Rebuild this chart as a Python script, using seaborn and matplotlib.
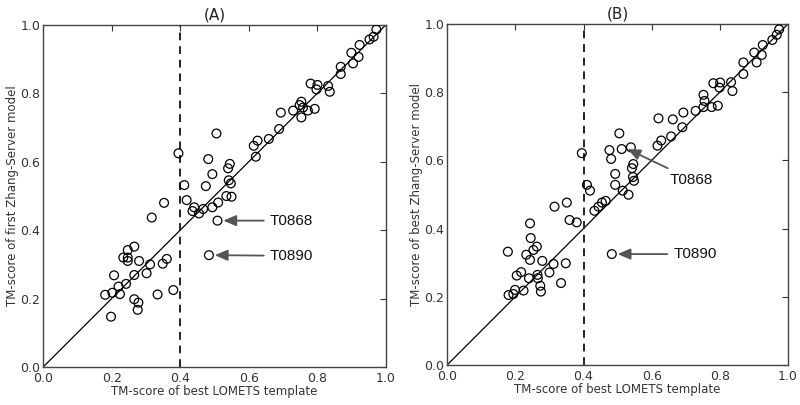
import numpy as np
import pandas as pd
import matplotlib
matplotlib.use("Agg")
import matplotlib.pyplot as plt
import seaborn as sns

# Panel A: best LOMETS template vs first Zhang-Server model
a_x = [0.395, 0.482, 0.494, 0.412, 0.475, 0.353, 0.419, 0.441, 0.467, 0.436,
       0.455, 0.494, 0.511, 0.509, 0.317, 0.266, 0.247, 0.234, 0.247, 0.247,
       0.280, 0.361, 0.349, 0.312, 0.302, 0.266, 0.207, 0.242, 0.220, 0.202,
       0.181, 0.224, 0.334, 0.380, 0.266, 0.278, 0.276, 0.198, 0.484,
       0.973, 0.965, 0.953, 0.924, 0.900, 0.921, 0.905, 0.869, 0.869, 0.781,
       0.801, 0.832, 0.798, 0.837, 0.754, 0.749, 0.759, 0.730, 0.773, 0.793,
       0.754, 0.694, 0.689, 0.659, 0.626, 0.615, 0.621, 0.506, 0.545, 0.540,
       0.542, 0.548, 0.535, 0.550]
a_y = [0.625, 0.608, 0.564, 0.532, 0.529, 0.480, 0.488, 0.467, 0.462, 0.456,
       0.449, 0.467, 0.481, 0.428, 0.437, 0.352, 0.342, 0.320, 0.320, 0.310,
       0.310, 0.316, 0.302, 0.300, 0.274, 0.269, 0.268, 0.243, 0.235, 0.217,
       0.211, 0.213, 0.212, 0.225, 0.198, 0.188, 0.167, 0.147, 0.327,
       0.987, 0.966, 0.958, 0.942, 0.919, 0.907, 0.888, 0.878, 0.857, 0.829,
       0.825, 0.822, 0.812, 0.805, 0.776, 0.766, 0.759, 0.750, 0.750, 0.755,
       0.730, 0.744, 0.696, 0.667, 0.662, 0.647, 0.615, 0.683, 0.594, 0.581,
       0.546, 0.537, 0.500, 0.498]

# Panel B: best LOMETS template vs best Zhang-Server model
b_x = [0.395, 0.476, 0.481, 0.505, 0.512, 0.539, 0.546, 0.542, 0.493, 0.548,
       0.545, 0.493, 0.410, 0.419, 0.532, 0.515, 0.465, 0.454, 0.444, 0.432,
       0.351, 0.315, 0.359, 0.380, 0.243, 0.245, 0.263, 0.253, 0.178, 0.232,
       0.243, 0.279, 0.312, 0.348, 0.217, 0.204, 0.240, 0.265, 0.266, 0.300,
       0.334, 0.273, 0.275, 0.224, 0.199, 0.194, 0.180, 0.483,
       0.974, 0.967, 0.954, 0.926, 0.901, 0.923, 0.908, 0.869, 0.869, 0.781,
       0.801, 0.833, 0.799, 0.837, 0.752, 0.755, 0.752, 0.776, 0.794, 0.729,
       0.693, 0.662, 0.620, 0.690, 0.657, 0.628, 0.617]
b_y = [0.621, 0.630, 0.604, 0.679, 0.633, 0.638, 0.589, 0.577, 0.560, 0.540,
       0.551, 0.528, 0.528, 0.511, 0.499, 0.511, 0.481, 0.476, 0.464, 0.452,
       0.476, 0.464, 0.425, 0.418, 0.415, 0.372, 0.347, 0.337, 0.332, 0.323,
       0.308, 0.305, 0.296, 0.298, 0.272, 0.262, 0.254, 0.264, 0.254, 0.271,
       0.240, 0.232, 0.215, 0.218, 0.220, 0.208, 0.205, 0.325,
       0.984, 0.968, 0.953, 0.938, 0.916, 0.909, 0.887, 0.887, 0.853, 0.826,
       0.828, 0.829, 0.813, 0.803, 0.792, 0.774, 0.756, 0.756, 0.760, 0.745,
       0.740, 0.720, 0.723, 0.697, 0.670, 0.658, 0.643]

ticks = [0.0, 0.2, 0.4, 0.6, 0.8, 1.0]
tick_labels = ["0.0", "0.2", "0.4", "0.6", "0.8", "1.0"]
xlabel = "TM-score of best LOMETS template"
ylabels = ["TM-score of first Zhang-Server model", "TM-score of best Zhang-Server model"]
titles = ["(A)", "(B)"]
cutoff = 0.4

# annotations: (label, point_x, point_y, text_x, text_y)
ann_a = [("T0868", 0.509, 0.428, 0.662, 0.428), ("T0890", 0.484, 0.327, 0.662, 0.325)]
ann_b = [("T0868", 0.512, 0.633, 0.654, 0.543), ("T0890", 0.483, 0.325, 0.664, 0.325)]

sns.set_style("white")
plt.rcParams["font.family"] = ["DejaVu Sans"]

fig = plt.figure(figsize=(8.0, 4.05), dpi=100)
ax_a = fig.add_axes([0.054, 0.094, 0.428, 0.844])
ax_b = fig.add_axes([0.559, 0.099, 0.426, 0.842])

panels = [
    (ax_a, a_x, a_y, ann_a, ylabels[0], titles[0]),
    (ax_b, b_x, b_y, ann_b, ylabels[1], titles[1]),
]

for ax, xs, ys, anns, ylab, title in panels:
    df = pd.DataFrame({"x": xs, "y": ys})
    ax.plot([0, 1], [0, 1], color="black", lw=0.9, zorder=1)
    ax.axvline(cutoff, color="#222222", lw=1.4, ls=(0, (4, 3)), zorder=1)
    sns.scatterplot(data=df, x="x", y="y", ax=ax, marker="o", s=40,
                    facecolor="none", edgecolor="black", linewidth=0.9, zorder=3)
    for lab, px, py, tx, ty in anns:
        ax.annotate(lab, xy=(px + 0.017, py), xytext=(tx, ty),
                    fontsize=11, family=["Liberation Sans", "DejaVu Sans"],
                    color="#111111", va="center", ha="left",
                    arrowprops=dict(arrowstyle="-|>,head_length=0.7,head_width=0.3",
                                    color="#555555", lw=1.3,
                                    shrinkA=2, shrinkB=0))
    ax.set_xlim(0, 1)
    ax.set_ylim(0, 1)
    ax.set_xticks(ticks)
    ax.set_xticklabels(tick_labels)
    ax.set_yticks(ticks)
    ax.set_yticklabels(tick_labels)
    ax.tick_params(direction="in", length=4, width=0.8, top=True, right=True,
                   labelsize=9, colors="#333333", labelcolor="#333333")
    ax.tick_params(axis="x", pad=4)
    ax.tick_params(axis="y", pad=2)
    ax.set_xlabel(xlabel, fontsize=8.5, color="#333333", labelpad=0)
    ax.set_ylabel(ylab, fontsize=8.5, color="#333333", labelpad=1)
    ax.set_title(title, fontsize=11, pad=4, color="#222222")
    for sp in ax.spines.values():
        sp.set_color("#444444")
        sp.set_linewidth(1.0)

fig.savefig("out.png", dpi=100)
